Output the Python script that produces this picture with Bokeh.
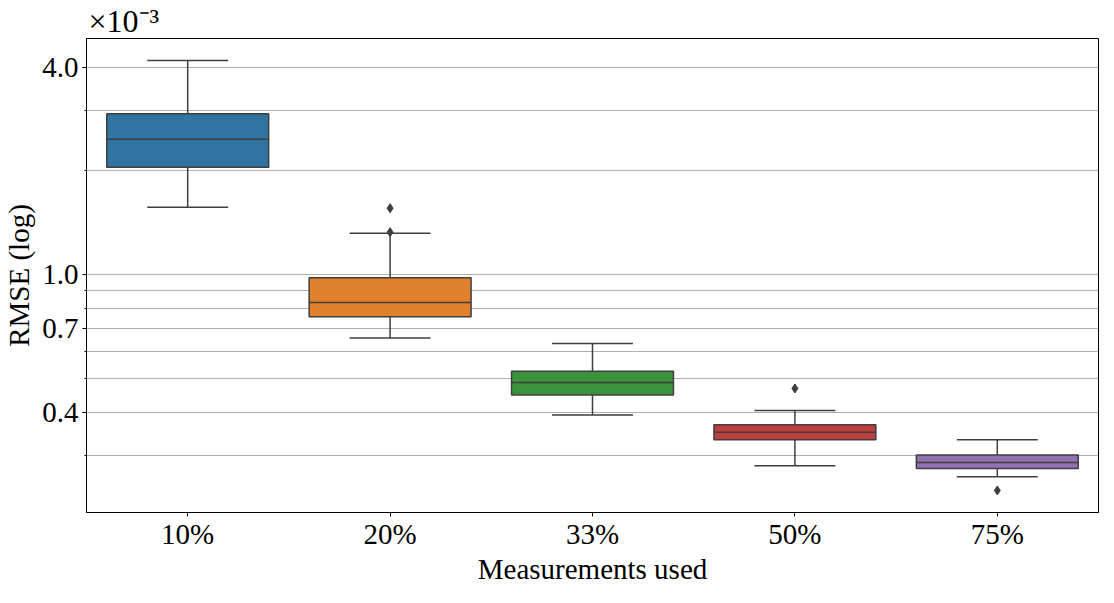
from bokeh.plotting import figure
from bokeh.models import (ColumnDataSource, FactorRange, Range1d, FixedTicker,
                          CustomJSTickFormatter)
from bokeh.embed import file_html
from bokeh.resources import INLINE

# Data (RMSE in units of 1e-3)
categories = ["10%", "20%", "33%", "50%", "75%"]
whisker_low = [1.57, 0.657, 0.393, 0.280, 0.260]
q1 = [2.05, 0.756, 0.449, 0.333, 0.275]
median = [2.47, 0.832, 0.488, 0.350, 0.286]
q3 = [2.93, 0.981, 0.526, 0.368, 0.301]
whisker_high = [4.18, 1.32, 0.633, 0.405, 0.333]
outlier_cat = ["20%", "20%", "50%", "75%"]
outlier_val = [1.56, 1.33, 0.469, 0.2375]
colors = ["#3274a1", "#e1812c", "#3a923a", "#c03d3e", "#9372b2"]

major_ticks = [0.4, 0.7, 1.0, 4.0]
minor_ticks = [0.3, 0.5, 0.6, 0.8, 0.9, 2.0, 3.0]

FONT = "Liberation Serif"
EDGE = "#3f3f3f"

p = figure(frame_width=1012, frame_height=474, output_backend="svg", toolbar_location=None,
           x_range=FactorRange(factors=categories, range_padding=0),
           y_range=Range1d(0.205, 4.84), y_axis_type="log",
           min_border_left=84, min_border_right=2, min_border_top=0,
           min_border_bottom=40, title="×10⁻³")

p.title.text_font = FONT
p.title.text_font_size = "32px"
p.title.text_font_style = "normal"
p.title.align = "left"
p.title.standoff = 0
p.title.offset = 2
p.title.text_color = "black"

src = ColumnDataSource(dict(
    cat=categories, wl=whisker_low, q1=q1, med=median, q3=q3, wh=whisker_high,
    color=colors,
    left=[(c, -0.4) for c in categories], right=[(c, 0.4) for c in categories],
    capl=[(c, -0.2) for c in categories], capr=[(c, 0.2) for c in categories],
))

# whisker stems
p.segment(x0="cat", y0="wl", x1="cat", y1="q1", source=src, line_color=EDGE, line_width=1.5)
p.segment(x0="cat", y0="q3", x1="cat", y1="wh", source=src, line_color=EDGE, line_width=1.5)
# caps
p.segment(x0="capl", y0="wl", x1="capr", y1="wl", source=src, line_color=EDGE, line_width=1.5)
p.segment(x0="capl", y0="wh", x1="capr", y1="wh", source=src, line_color=EDGE, line_width=1.5)
# boxes
p.vbar(x="cat", bottom="q1", top="q3", width=0.8, source=src, fill_color="color",
       line_color=EDGE, line_width=1.5)
# medians
p.segment(x0="left", y0="med", x1="right", y1="med", source=src, line_color=EDGE, line_width=1.5)
# outliers
p.scatter(x=outlier_cat, y=outlier_val, marker="diamond", size=9,
          fill_color=EDGE, line_color=EDGE)

# axes
yax = p.yaxis[0]
yax.ticker = FixedTicker(ticks=major_ticks, minor_ticks=minor_ticks)
yax.formatter = CustomJSTickFormatter(code="return tick.toFixed(1);")
yax.axis_label = "RMSE (log)"
for ax in (p.xaxis[0], yax):
    ax.axis_label_text_font = FONT
    ax.axis_label_text_font_style = "normal"
    ax.axis_label_text_font_size = "29px"
    ax.major_label_text_font = FONT
    ax.major_label_text_font_size = "29px"
    ax.axis_line_color = "black"
    ax.major_tick_line_color = "black"
    ax.major_tick_out = 4
    ax.major_tick_in = 0
    ax.minor_tick_line_color = "black"
    ax.minor_tick_out = 2
    ax.minor_tick_in = 0
    ax.major_label_text_color = "black"
    ax.axis_label_text_color = "black"
yax.axis_label_standoff = 4
yax.major_label_standoff = 4
p.xaxis[0].axis_label = "Measurements used"
p.xaxis[0].axis_label_standoff = 0
p.xaxis[0].major_label_standoff = 1

p.xgrid.grid_line_color = None
p.ygrid.grid_line_color = "#b0b0b0"
p.ygrid.grid_line_width = 1
p.ygrid.minor_grid_line_color = "#b0b0b0"
p.ygrid.minor_grid_line_width = 1

p.outline_line_color = "black"
p.outline_line_width = 1
p.background_fill_color = "white"
p.border_fill_color = "white"

open("out.html", "w").write(file_html(p, INLINE))
